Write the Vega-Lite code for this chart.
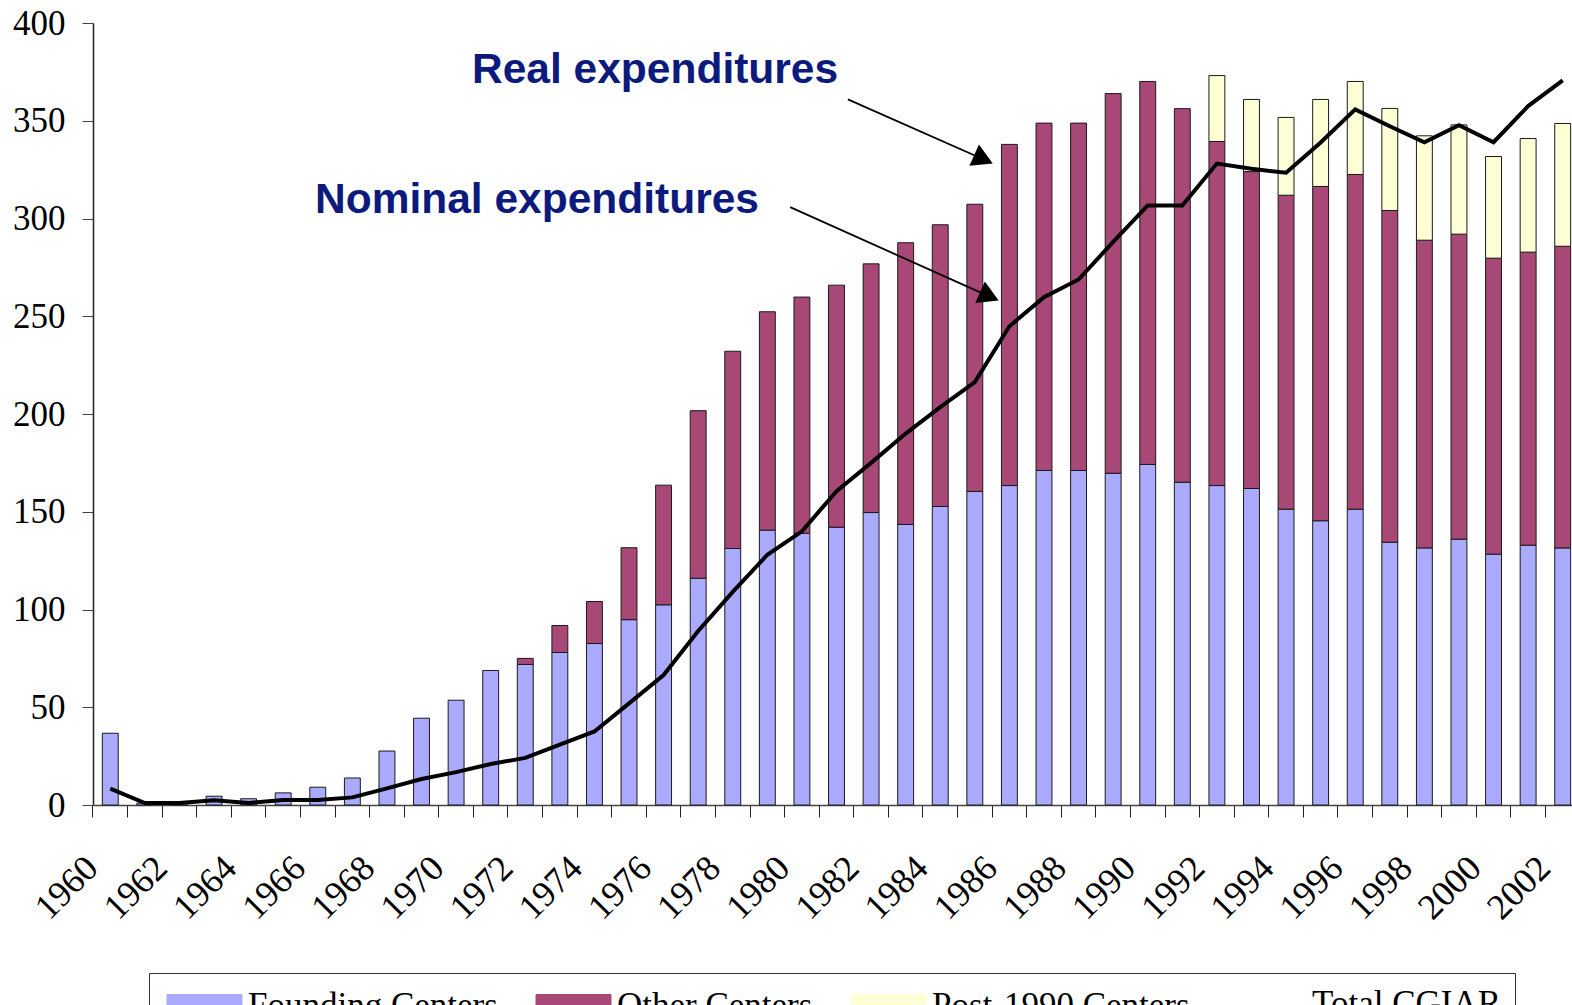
{
  "$schema": "https://vega.github.io/schema/vega-lite/v6.json",
  "width": 1487,
  "height": 782,
  "autosize": {"type": "none"},
  "padding": {"left": 93, "top": 23, "right": -8, "bottom": 200},
  "background": "white",
  "config": {"view": {"stroke": null}},
  "datasets": {
    "bars": [
      {"year": 1960, "group": "Founding Centers", "value": 36.7},
      {"year": 1961, "group": "Founding Centers", "value": 1},
      {"year": 1962, "group": "Founding Centers", "value": 1},
      {"year": 1963, "group": "Founding Centers", "value": 4.5},
      {"year": 1964, "group": "Founding Centers", "value": 3.2},
      {"year": 1965, "group": "Founding Centers", "value": 6.2},
      {"year": 1966, "group": "Founding Centers", "value": 9.1},
      {"year": 1967, "group": "Founding Centers", "value": 13.8},
      {"year": 1968, "group": "Founding Centers", "value": 27.6},
      {"year": 1969, "group": "Founding Centers", "value": 44.4},
      {"year": 1970, "group": "Founding Centers", "value": 53.6},
      {"year": 1971, "group": "Founding Centers", "value": 68.8},
      {"year": 1972, "group": "Founding Centers", "value": 71.9},
      {"year": 1973, "group": "Founding Centers", "value": 78},
      {"year": 1974, "group": "Founding Centers", "value": 82.6},
      {"year": 1975, "group": "Founding Centers", "value": 94.8},
      {"year": 1976, "group": "Founding Centers", "value": 102.4},
      {"year": 1977, "group": "Founding Centers", "value": 116},
      {"year": 1978, "group": "Founding Centers", "value": 131.2},
      {"year": 1979, "group": "Founding Centers", "value": 140.6},
      {"year": 1980, "group": "Founding Centers", "value": 139},
      {"year": 1981, "group": "Founding Centers", "value": 142.1},
      {"year": 1982, "group": "Founding Centers", "value": 149.6},
      {"year": 1983, "group": "Founding Centers", "value": 143.5},
      {"year": 1984, "group": "Founding Centers", "value": 152.7},
      {"year": 1985, "group": "Founding Centers", "value": 160.4},
      {"year": 1986, "group": "Founding Centers", "value": 163.4},
      {"year": 1987, "group": "Founding Centers", "value": 171.1},
      {"year": 1988, "group": "Founding Centers", "value": 171.1},
      {"year": 1989, "group": "Founding Centers", "value": 169.7},
      {"year": 1990, "group": "Founding Centers", "value": 174.2},
      {"year": 1991, "group": "Founding Centers", "value": 165.1},
      {"year": 1992, "group": "Founding Centers", "value": 163.4},
      {"year": 1993, "group": "Founding Centers", "value": 161.9},
      {"year": 1994, "group": "Founding Centers", "value": 151.3},
      {"year": 1995, "group": "Founding Centers", "value": 145.4},
      {"year": 1996, "group": "Founding Centers", "value": 151.3},
      {"year": 1997, "group": "Founding Centers", "value": 134.4},
      {"year": 1998, "group": "Founding Centers", "value": 131.5},
      {"year": 1999, "group": "Founding Centers", "value": 136},
      {"year": 2000, "group": "Founding Centers", "value": 128.3},
      {"year": 2001, "group": "Founding Centers", "value": 132.9},
      {"year": 2002, "group": "Founding Centers", "value": 131.5},
      {"year": 1972, "group": "Other Centers", "value": 3.1},
      {"year": 1973, "group": "Other Centers", "value": 13.8},
      {"year": 1974, "group": "Other Centers", "value": 21.5},
      {"year": 1975, "group": "Other Centers", "value": 36.8},
      {"year": 1976, "group": "Other Centers", "value": 61.2},
      {"year": 1977, "group": "Other Centers", "value": 85.7},
      {"year": 1978, "group": "Other Centers", "value": 100.9},
      {"year": 1979, "group": "Other Centers", "value": 111.7},
      {"year": 1980, "group": "Other Centers", "value": 120.8},
      {"year": 1981, "group": "Other Centers", "value": 123.8},
      {"year": 1982, "group": "Other Centers", "value": 127.2},
      {"year": 1983, "group": "Other Centers", "value": 144.1},
      {"year": 1984, "group": "Other Centers", "value": 144.1},
      {"year": 1985, "group": "Other Centers", "value": 146.9},
      {"year": 1986, "group": "Other Centers", "value": 174.5},
      {"year": 1987, "group": "Other Centers", "value": 177.7},
      {"year": 1988, "group": "Other Centers", "value": 177.7},
      {"year": 1989, "group": "Other Centers", "value": 194.2},
      {"year": 1990, "group": "Other Centers", "value": 195.9},
      {"year": 1991, "group": "Other Centers", "value": 191.1},
      {"year": 1992, "group": "Other Centers", "value": 176},
      {"year": 1993, "group": "Other Centers", "value": 162.1},
      {"year": 1994, "group": "Other Centers", "value": 160.6},
      {"year": 1995, "group": "Other Centers", "value": 171},
      {"year": 1996, "group": "Other Centers", "value": 171.2},
      {"year": 1997, "group": "Other Centers", "value": 169.7},
      {"year": 1998, "group": "Other Centers", "value": 157.4},
      {"year": 1999, "group": "Other Centers", "value": 156},
      {"year": 2000, "group": "Other Centers", "value": 151.4},
      {"year": 2001, "group": "Other Centers", "value": 149.9},
      {"year": 2002, "group": "Other Centers", "value": 154.3},
      {"year": 1992, "group": "Post-1990 Centers", "value": 33.7},
      {"year": 1993, "group": "Post-1990 Centers", "value": 36.9},
      {"year": 1994, "group": "Post-1990 Centers", "value": 39.8},
      {"year": 1995, "group": "Post-1990 Centers", "value": 44.5},
      {"year": 1996, "group": "Post-1990 Centers", "value": 47.6},
      {"year": 1997, "group": "Post-1990 Centers", "value": 52.2},
      {"year": 1998, "group": "Post-1990 Centers", "value": 53.4},
      {"year": 1999, "group": "Post-1990 Centers", "value": 55.9},
      {"year": 2000, "group": "Post-1990 Centers", "value": 52},
      {"year": 2001, "group": "Post-1990 Centers", "value": 58.1},
      {"year": 2002, "group": "Post-1990 Centers", "value": 62.8}
    ],
    "total": [
      {"year": 1960, "value": 8.4},
      {"year": 1961, "value": 1},
      {"year": 1962, "value": 1},
      {"year": 1963, "value": 2.4},
      {"year": 1964, "value": 1},
      {"year": 1965, "value": 2.6},
      {"year": 1966, "value": 2.6},
      {"year": 1967, "value": 3.9},
      {"year": 1968, "value": 8.5},
      {"year": 1969, "value": 13.3},
      {"year": 1970, "value": 16.8},
      {"year": 1971, "value": 21},
      {"year": 1972, "value": 24.1},
      {"year": 1973, "value": 30.9},
      {"year": 1974, "value": 37.6},
      {"year": 1975, "value": 52},
      {"year": 1976, "value": 66.5},
      {"year": 1977, "value": 89},
      {"year": 1978, "value": 109},
      {"year": 1979, "value": 128},
      {"year": 1980, "value": 140},
      {"year": 1981, "value": 160.5},
      {"year": 1982, "value": 175},
      {"year": 1983, "value": 190},
      {"year": 1984, "value": 203.5},
      {"year": 1985, "value": 216.3},
      {"year": 1986, "value": 244.9},
      {"year": 1987, "value": 259.7},
      {"year": 1988, "value": 268.8},
      {"year": 1989, "value": 288},
      {"year": 1990, "value": 306.7},
      {"year": 1991, "value": 306.7},
      {"year": 1992, "value": 328.1},
      {"year": 1993, "value": 325.4},
      {"year": 1994, "value": 323.4},
      {"year": 1995, "value": 338.9},
      {"year": 1996, "value": 355.8},
      {"year": 1997, "value": 347.2},
      {"year": 1998, "value": 339},
      {"year": 1999, "value": 347.7},
      {"year": 2000, "value": 339},
      {"year": 2001, "value": 357.5},
      {"year": 2002, "value": 370.7}
    ]
  },
  "layer": [
    {
      "layer": [
        {
          "data": {"name": "bars"},
          "mark": {"type": "bar", "width": {"band": 0.46}, "stroke": "#1a1a1a", "strokeWidth": 1},
          "encoding": {
            "x": {
              "field": "year", "type": "ordinal",
              "scale": {"paddingInner": 0, "paddingOuter": 0},
              "axis": {
                "title": null, "bandPosition": 0, "domainColor": "#444", "domainWidth": 1.5,
                "tickColor": "#222", "tickSize": 12, "tickWidth": 1,
                "labelAngle": -45, "labelAlign": "right", "labelBaseline": "middle",
                "labelFont": "Liberation Serif", "labelFontSize": 36, "labelColor": "#000",
                "labelPadding": 45, "labelOffset": -18, "labelOverlap": false,
                "labelExpr": "datum.value % 2 === 0 ? datum.label : ''"
              }
            },
            "y": {
              "field": "value", "type": "quantitative", "stack": "zero",
              "scale": {"domain": [0, 400], "nice": false},
              "axis": {
                "title": null, "grid": false, "values": [0, 50, 100, 150, 200, 250, 300, 350, 400],
                "domainColor": "#222", "domainWidth": 1.5, "tickColor": "#444", "tickSize": 11,
                "labelFont": "Liberation Serif", "labelFontSize": 35, "labelColor": "#000",
                "labelPadding": 17
              }
            },
            "order": {"field": "group", "type": "nominal", "sort": "ascending"},
            "color": {
              "field": "group", "type": "nominal",
              "scale": {
                "domain": ["Founding Centers", "Other Centers", "Post-1990 Centers", "Total CGIAR"],
                "range": ["#aaaaff", "#a84876", "#ffffd6", "#000000"]
              },
              "legend": {
                "title": null, "orient": "none", "legendX": 56, "legendY": 950,
                "direction": "horizontal", "columns": 4, "columnPadding": 33,
                "strokeColor": "#333", "padding": 13, "fillColor": "white",
                "symbolType": "M-3,-0.9H3V0.9H-3Z", "symbolSize": 625, "symbolOffset": 25,
                "labelOffset": 26, "labelFont": "Liberation Serif", "labelFontSize": 35,
                "labelColor": "#000", "labelLimit": 0,
                "encode": {
                  "symbols": {
                    "update": {
                      "shape": {"signal": "datum.value === 'Total CGIAR' ? 'M-3,1.1H3' : 'M-3,-0.9H3V0.9H-3Z'"},
                      "fillOpacity": {"signal": "datum.value === 'Total CGIAR' ? 0 : 1"},
                      "stroke": {"value": "#000"},
                      "strokeWidth": {"signal": "datum.value === 'Total CGIAR' ? 4 : 1"},
                      "opacity": {"value": 1}
                    }
                  }
                }
              }
            }
          }
        },
        {
          "data": {"name": "total"},
          "mark": {"type": "line", "strokeWidth": 4, "strokeJoin": "miter"},
          "encoding": {
            "x": {"field": "year", "type": "ordinal"},
            "y": {"field": "value", "type": "quantitative"},
            "color": {
              "datum": "Total CGIAR",
              "legend": {
                "title": null, "orient": "none", "legendX": 56, "legendY": 950,
                "direction": "horizontal", "columns": 4, "columnPadding": 33,
                "strokeColor": "#333", "padding": 13, "fillColor": "white",
                "symbolType": "M-3,-0.9H3V0.9H-3Z", "symbolSize": 625, "symbolOffset": 25,
                "labelOffset": 26, "labelFont": "Liberation Serif", "labelFontSize": 35,
                "labelColor": "#000", "labelLimit": 0,
                "encode": {
                  "symbols": {
                    "update": {
                      "shape": {"signal": "datum.value === 'Total CGIAR' ? 'M-3,1.1H3' : 'M-3,-0.9H3V0.9H-3Z'"},
                      "fillOpacity": {"signal": "datum.value === 'Total CGIAR' ? 0 : 1"},
                      "stroke": {"value": "#000"},
                      "strokeWidth": {"signal": "datum.value === 'Total CGIAR' ? 4 : 1"},
                      "opacity": {"value": 1}
                    }
                  }
                }
              }
            }
          }
        }
      ]
    },
    {
      "data": {"values": [{}]},
      "layer": [
        {
          "mark": {"type": "text", "text": "Real expenditures", "font": "Liberation Sans", "fontWeight": "bold", "fontSize": 42.5, "color": "#0d1a7d", "align": "left", "baseline": "alphabetic"},
          "encoding": {
            "x": {"datum": 1970.46, "type": "quantitative", "scale": {"domain": [1959.5, 2002.5], "nice": false, "zero": false}, "axis": null},
            "y": {"datum": 369.1, "type": "quantitative"}
          }
        },
        {
          "mark": {"type": "text", "text": "Nominal expenditures", "font": "Liberation Sans", "fontWeight": "bold", "fontSize": 42.5, "color": "#0d1a7d", "align": "left", "baseline": "alphabetic"},
          "encoding": {
            "x": {"datum": 1965.92, "type": "quantitative"},
            "y": {"datum": 302.9, "type": "quantitative"}
          }
        },
        {
          "mark": {"type": "rule", "strokeWidth": 1.8, "color": "#000"},
          "encoding": {
            "x": {"datum": 1981.33, "type": "quantitative"},
            "y": {"datum": 360.9, "type": "quantitative"},
            "x2": {"datum": 1985.18},
            "y2": {"datum": 330.8}
          }
        },
        {
          "mark": {"type": "rule", "strokeWidth": 1.8, "color": "#000"},
          "encoding": {
            "x": {"datum": 1979.66, "type": "quantitative"},
            "y": {"datum": 305.8, "type": "quantitative"},
            "x2": {"datum": 1985.35},
            "y2": {"datum": 260.7}
          }
        },
        {
          "mark": {"type": "point", "shape": "triangle-right", "filled": true, "size": 550, "angle": 24, "color": "#000", "opacity": 1},
          "encoding": {
            "x": {"datum": 1985.25, "type": "quantitative"},
            "y": {"datum": 330.3, "type": "quantitative"}
          }
        },
        {
          "mark": {"type": "point", "shape": "triangle-right", "filled": true, "size": 550, "angle": 24, "color": "#000", "opacity": 1},
          "encoding": {
            "x": {"datum": 1985.42, "type": "quantitative"},
            "y": {"datum": 260.2, "type": "quantitative"}
          }
        }
      ]
    }
  ],
  "resolve": {"scale": {"x": "independent"}}
}
